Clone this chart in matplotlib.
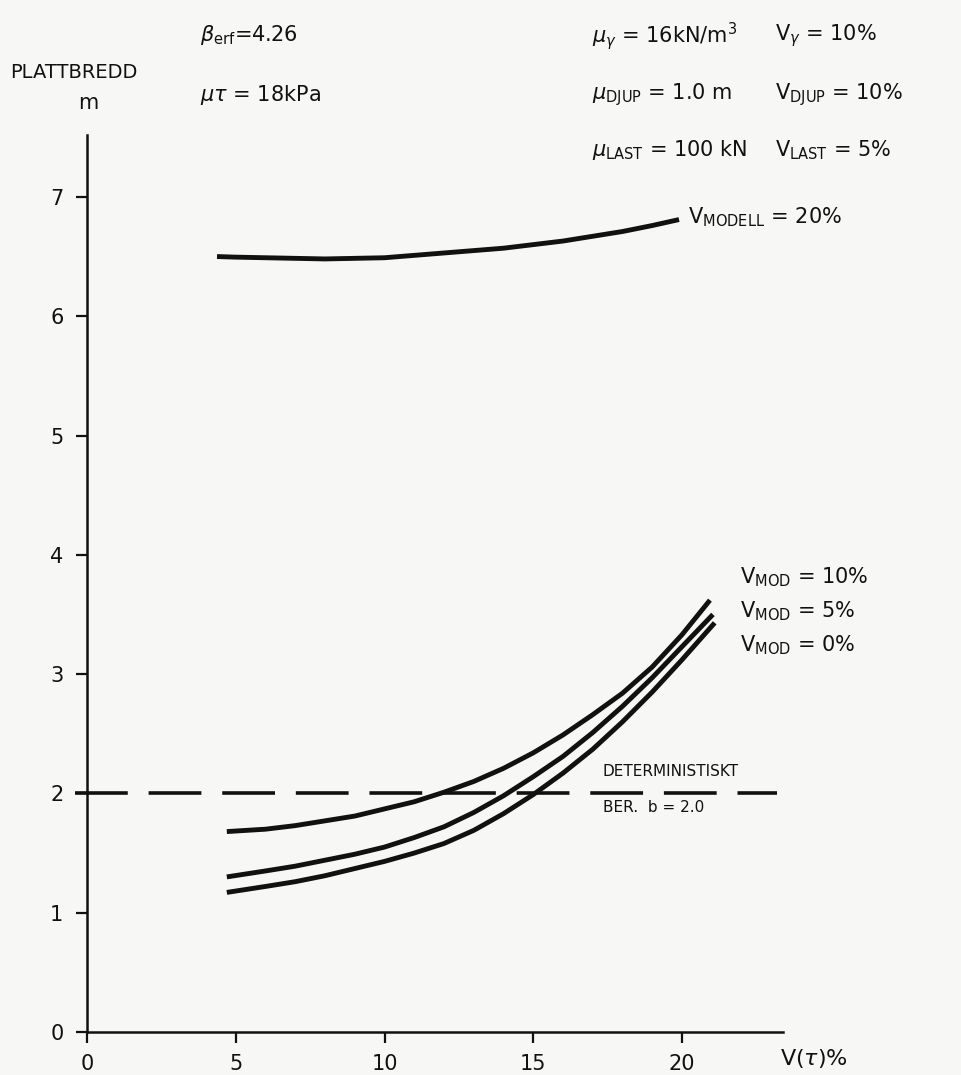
import matplotlib
matplotlib.use("Agg")
import matplotlib.pyplot as plt

plt.rcParams['font.family'] = ['DejaVu Sans']
plt.rcParams['mathtext.fontset'] = 'dejavusans'
plt.rcParams['lines.scale_dashes'] = False

# ---- data ----
x_modell20 = [4.37, 5, 6, 7, 8, 9, 10, 11, 12, 13, 14, 15, 16, 17, 18, 19, 19.9]
y_modell20 = [6.50, 6.495, 6.49, 6.485, 6.48, 6.485, 6.49, 6.51, 6.53, 6.55,
              6.57, 6.60, 6.63, 6.67, 6.71, 6.76, 6.81]

x_mod10 = [4.7, 6, 7, 8, 9, 10, 11, 12, 13, 14, 15, 16, 17, 18, 19, 20, 20.94]
y_mod10 = [1.68, 1.70, 1.73, 1.77, 1.81, 1.87, 1.93, 2.01, 2.10, 2.21, 2.34,
           2.49, 2.66, 2.84, 3.06, 3.33, 3.62]

x_mod5 = [4.7, 6, 7, 8, 9, 10, 11, 12, 13, 14, 15, 16, 17, 18, 19, 20, 21.04]
y_mod5 = [1.30, 1.35, 1.39, 1.44, 1.49, 1.55, 1.63, 1.72, 1.84, 1.98, 2.14,
          2.31, 2.51, 2.73, 2.97, 3.23, 3.50]

x_mod0 = [4.7, 6, 7, 8, 9, 10, 11, 12, 13, 14, 15, 16, 17, 18, 19, 20, 21.1]
y_mod0 = [1.17, 1.22, 1.26, 1.31, 1.37, 1.43, 1.50, 1.58, 1.69, 1.83, 1.99,
          2.17, 2.37, 2.60, 2.85, 3.12, 3.43]

determ_x = [-0.4, 23.2]
determ_y = [2.0, 2.0]

x_ticks = [0, 5, 10, 15, 20]
y_ticks = [0, 1, 2, 3, 4, 5, 6, 7]

W, H = 962, 1075
fig = plt.figure(figsize=(W / 100, H / 100), dpi=100)
fig.patch.set_facecolor('#f7f7f5')

left_px, right_px, bottom_px, top_px = 87, 783, 1032, 135
ax = fig.add_axes([left_px / W, 1 - bottom_px / H,
                   (right_px - left_px) / W, (bottom_px - top_px) / H])
ax.set_facecolor('none')
ax.set_xlim(0, (right_px - left_px) / 29.75)
ax.set_ylim(0, (bottom_px - top_px) / 119.3)

for s in ['top', 'right']:
    ax.spines[s].set_visible(False)
for s in ['left', 'bottom']:
    ax.spines[s].set_linewidth(1.8)
    ax.spines[s].set_color('#111111')

ax.set_xticks(x_ticks)
ax.set_yticks(y_ticks)
ax.set_xticklabels([str(v) for v in x_ticks])
ax.set_yticklabels([str(v) for v in y_ticks])
ax.tick_params(axis='both', direction='out', length=8, width=1.6,
               colors='#111111', labelsize=15)
ax.tick_params(axis='x', pad=8)
ax.tick_params(axis='y', pad=9)

lw = 3.5
col = '#111111'
for xs, ys in [(x_modell20, y_modell20), (x_mod10, y_mod10),
               (x_mod5, y_mod5), (x_mod0, y_mod0)]:
    ax.plot(xs, ys, color=col, lw=lw, solid_capstyle='butt',
            solid_joinstyle='round')
ax.plot(determ_x, determ_y, color=col, lw=2.6, dashes=(38, 15),
        clip_on=False, solid_capstyle='butt')


def ftext(px, py, s, size=15, **kw):
    fig.text(px / W, 1 - py / H, s, fontsize=size, color=col,
             va='center', ha=kw.pop('ha', 'left'), **kw)


ftext(10, 72, "PLATTBREDD", 14)
ftext(88, 103, "m", 15, ha='center')

ftext(200, 35, r"$\beta_{\mathrm{erf}}$=4.26", 15)
ftext(200, 95, r"$\mu\tau$ = 18kPa", 15)
ftext(592, 36, r"$\mu_{\gamma}$ = 16kN/m$^3$", 15)
ftext(592, 95, r"$\mu_{\mathrm{DJUP}}$ = 1.0 m", 15)
ftext(592, 150, r"$\mu_{\mathrm{LAST}}$ = 100 kN", 15)
ftext(775, 36, r"V$_{\gamma}$ = 10%", 15)
ftext(775, 95, r"V$_{\mathrm{DJUP}}$ = 10%", 15)
ftext(775, 150, r"V$_{\mathrm{LAST}}$ = 5%", 15)

ftext(688, 217, r"V$_{\mathrm{MODELL}}$ = 20%", 15)
ftext(740, 577, r"V$_{\mathrm{MOD}}$ = 10%", 15)
ftext(740, 611, r"V$_{\mathrm{MOD}}$ = 5%", 15)
ftext(740, 645, r"V$_{\mathrm{MOD}}$ = 0%", 15)

ftext(603, 772, "DETERMINISTISKT", 11)
ftext(603, 808, "BER.  b = 2.0", 11)

ftext(780, 1058, r"V($\tau$)%", 16)

fig.savefig("out.png", dpi=100, facecolor=fig.get_facecolor())
